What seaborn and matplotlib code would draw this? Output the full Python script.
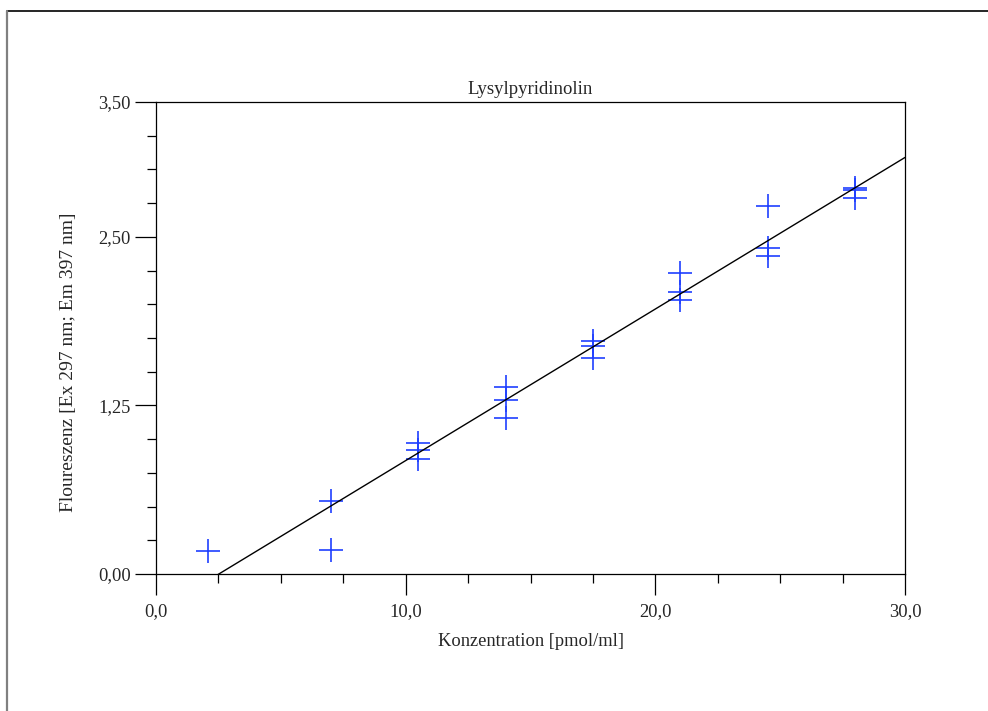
import numpy as np
import pandas as pd
import matplotlib.pyplot as plt
import seaborn as sns
from matplotlib.lines import Line2D
from matplotlib.ticker import FixedLocator, MultipleLocator

# measured points (concentration, fluorescence)
konz = [2.1, 7.0, 7.0, 10.5, 10.5, 10.5, 14.0, 14.0, 14.0,
        17.5, 17.5, 17.5, 21.0, 21.0, 21.0, 24.5, 24.5, 24.5, 28.0, 28.0, 28.0]
fluor = [0.17, 0.54, 0.18, 0.97, 0.92, 0.85, 1.39, 1.29, 1.16,
         1.73, 1.69, 1.60, 2.23, 2.09, 2.03, 2.73, 2.42, 2.36, 2.86, 2.85, 2.79]

# calibration line as drawn in the original
fit_slope = 0.1124
fit_intercept = -0.283

x_ticks = [0, 10, 20, 30]
x_ticklabels = ["0,0", "10,0", "20,0", "30,0"]
y_ticks = [0, 1.25, 2.5, 3.5]
y_ticklabels = ["0,00", "1,25", "2,50", "3,50"]

sns.set_style("ticks")
plt.rcParams["font.family"] = ["Liberation Serif", "DejaVu Serif"]
plt.rcParams["font.size"] = 13.3

data = pd.DataFrame({"konz": konz, "fluor": fluor})
line_x = np.array([0.0, 30.0])
line = pd.DataFrame({"x": line_x, "y": fit_slope * line_x + fit_intercept})

fig = plt.figure(figsize=(9.88, 7.11), dpi=100)
ax = fig.add_axes([0.1579, 0.1927, 0.9160 - 0.1579, 0.8565 - 0.1927])

sns.lineplot(line, x="x", y="y", ax=ax, color="black", lw=1.0)
sns.scatterplot(data, x="konz", y="fluor", ax=ax, marker="+", s=280,
                color="#1f3fff", linewidth=1.2)

ax.set_xlim(0, 30)
ax.set_ylim(0, 3.5)
ax.xaxis.set_major_locator(FixedLocator(x_ticks))
ax.set_xticklabels(x_ticklabels)
ax.xaxis.set_minor_locator(MultipleLocator(2.5))
ax.yaxis.set_major_locator(FixedLocator(y_ticks))
ax.set_yticklabels(y_ticklabels)
ax.yaxis.set_minor_locator(MultipleLocator(0.25))

ax.tick_params(which="major", length=15, width=0.9, direction="out", labelsize=13.3, color="black")
ax.tick_params(axis="x", which="major", pad=6)
ax.tick_params(axis="y", which="major", pad=3)
ax.tick_params(which="minor", length=6.5, width=0.9, direction="out", color="black")
for s in ax.spines.values():
    s.set_visible(True)
    s.set_linewidth(0.9)
    s.set_color("black")

ax.set_title("Lysylpyridinolin", fontsize=13.5, pad=6)
ax.set_xlabel("Konzentration [pmol/ml]", fontsize=13.3, labelpad=9)
ax.set_ylabel("Floureszenz [Ex 297 nm; Em 397 nm]", fontsize=14)
ax.yaxis.set_label_coords(-0.105, 0.449)

# partial page frame
fig.add_artist(Line2D([7 / 988, 1.0], [1 - 11 / 711, 1 - 11 / 711], color="black", lw=1.2,
                      transform=fig.transFigure))
fig.add_artist(Line2D([7 / 988, 7 / 988], [0.0, 1 - 11 / 711], color="#808080", lw=1.6,
                      transform=fig.transFigure))

fig.savefig("out.png", dpi=100)
